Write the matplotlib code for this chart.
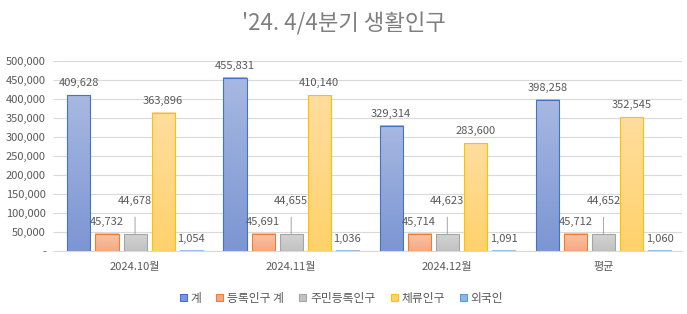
import numpy as np
import matplotlib
matplotlib.use('Agg')
import matplotlib.pyplot as plt
from matplotlib.colors import LinearSegmentedColormap
from matplotlib.patches import Patch
from matplotlib.ticker import FuncFormatter

plt.rcParams['font.family'] = ['Noto Sans CJK KR', 'DejaVu Sans']

# data
months = ['2024.10월', '2024.11월', '2024.12월', '평균']
series = ['계', '등록인구 계', '주민등록인구', '체류인구', '외국인']
total = [409628, 455831, 329314, 398258]
reg_total = [45732, 45691, 45714, 45712]
resident = [44678, 44655, 44623, 44652]
stay = [363896, 410140, 283600, 352545]
foreign = [1054, 1036, 1091, 1060]
values = [total, reg_total, resident, stay, foreign]

# (top colour, bottom colour, edge colour)
colours = [('#a7b8e1', '#7c96d3', '#4472c4'),
           ('#f9c4a7', '#f5a983', '#ed7d31'),
           ('#d3d3d3', '#c2c2c2', '#a5a5a5'),
           ('#ffdd9e', '#ffd26c', '#ffc000'),
           ('#abcaea', '#8cb7e1', '#5b9bd5')]

fig = plt.figure(figsize=(6.87, 3.14), dpi=100)
ax = fig.add_axes([0.083, 0.2006, 0.909, 0.6051])

x = np.arange(len(months))
step = 0.18
width = 0.148
grad = np.linspace(1, 0, 64).reshape(-1, 1)

for i, vals in enumerate(values):
    top, bottom, edge = colours[i]
    cmap = LinearSegmentedColormap.from_list('g%d' % i, [bottom, top])
    bars = ax.bar(x + (i - 2) * step, vals, width, facecolor='none',
                  edgecolor=edge, linewidth=0.8, zorder=3)
    for b, v in zip(bars, vals):
        ax.imshow(grad, cmap=cmap, aspect='auto', zorder=2,
                  extent=(b.get_x(), b.get_x() + b.get_width(), 0, v))
        cx = b.get_x() + b.get_width() / 2
        if i == 2:
            ax.annotate('{:,}'.format(v), xy=(cx, v), xytext=(0, 33),
                        textcoords='offset pixels', ha='center', va='center',
                        fontsize=8, color='#595959',
                        arrowprops=dict(arrowstyle='-', color='#a6a6a6', lw=0.7,
                                        shrinkA=6, shrinkB=0))
        else:
            ax.annotate('{:,}'.format(v), xy=(cx, v), xytext=(0, 12),
                        textcoords='offset pixels', ha='center', va='center',
                        fontsize=8, color='#595959')

ax.set_xlim(-0.5, 3.5)
ax.set_ylim(0, 500000)
ax.set_yticks(np.arange(0, 500001, 50000))
ax.yaxis.set_major_formatter(FuncFormatter(lambda v, p: '-' if v == 0 else '{:,}'.format(int(v))))
ax.set_xticks(x)
ax.set_xticklabels(months)
ax.tick_params(axis='x', length=0, pad=8, labelsize=8, labelcolor='#595959')
ax.tick_params(axis='y', length=3, color='#d9d9d9', pad=5, labelsize=8, labelcolor='#595959')
ax.grid(axis='y', color='#d9d9d9', linewidth=0.8, zorder=0)
ax.set_axisbelow(True)
for s in ['top', 'right', 'left']:
    ax.spines[s].set_visible(False)
ax.spines['bottom'].set_color('#d9d9d9')

fig.text(0.5, 0.925, "'24. 4/4분기 생활인구", ha='center', va='center',
         fontsize=16, color='#7f7f7f')

handles = [Patch(facecolor=c[1], edgecolor=c[2], linewidth=0.8) for c in colours]
fig.legend(handles, series, loc='center', bbox_to_anchor=(0.497, 0.05), ncol=5,
           frameon=False, fontsize=8.5, labelcolor='#595959',
           handlelength=0.6, handleheight=0.6, handletextpad=0.3, columnspacing=1.3)

fig.savefig('out.png', dpi=100)
